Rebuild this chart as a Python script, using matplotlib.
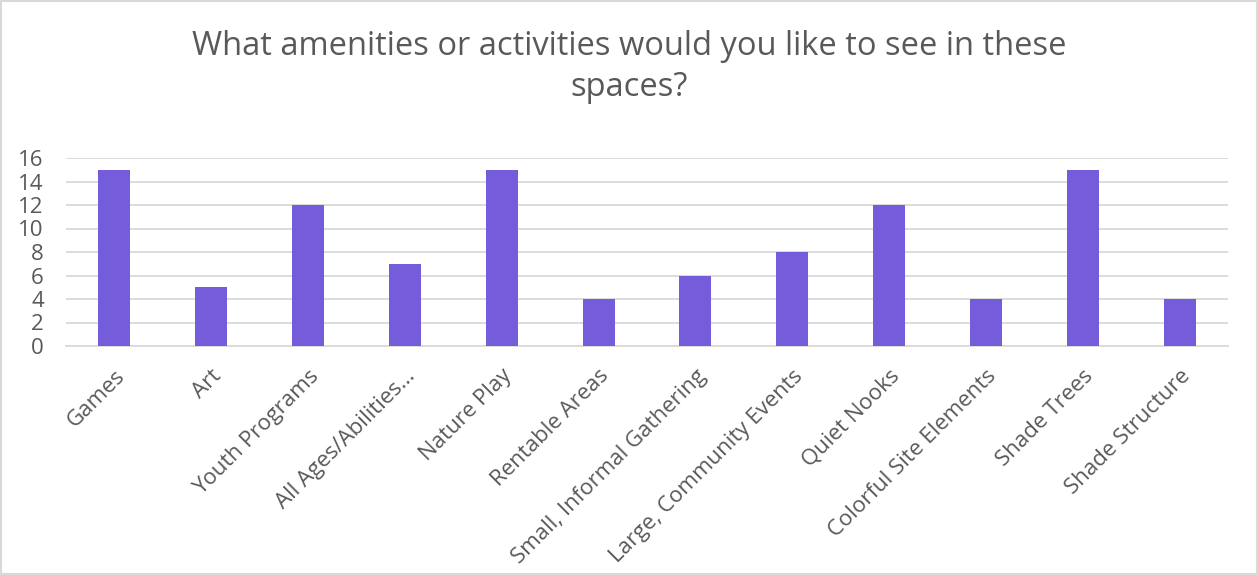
import matplotlib.pyplot as plt
from matplotlib.patches import Rectangle

plt.rcParams['font.family'] = ['Open Sans', 'DejaVu Sans']

categories = ['Games', 'Art', 'Youth Programs', 'All Ages/Abilities…', 'Nature Play',
              'Rentable Areas', 'Small, Informal Gathering', 'Large, Community Events',
              'Quiet Nooks', 'Colorful Site Elements', 'Shade Trees', 'Shade Structure']
counts = [15, 5, 12, 7, 15, 4, 6, 8, 12, 4, 15, 4]
yticks = [0, 2, 4, 6, 8, 10, 12, 14, 16]

fig = plt.figure(figsize=(12.58, 5.75), dpi=100)
ax = fig.add_axes([66 / 1258, 1 - 346 / 575, (1228 - 66) / 1258, (346 - 158) / 575])

ax.bar(range(len(categories)), counts, width=0.33, color='#755cdb', zorder=3)
ax.set_xlim(-0.5, len(categories) - 0.5)
ax.set_ylim(0, 16)
ax.set_yticks(yticks)
ax.grid(axis='y', color='#d9d9d9', linewidth=1.3, zorder=0)
for s in ['top', 'right', 'left']:
    ax.spines[s].set_visible(False)
ax.spines['bottom'].set_color('#d9d9d9')
ax.spines['bottom'].set_linewidth(1.3)
ax.tick_params(axis='both', length=0, colors='#595959', labelsize=16)
ax.tick_params(axis='y', pad=16)
ax.set_xticks(range(len(categories)))
ax.set_xticklabels(categories, rotation=45, ha='right', rotation_mode='anchor')
ax.tick_params(axis='x', pad=14)

fig.text(0.5, 1 - 67 / 575, 'What amenities or activities would you like to see in these\nspaces?',
         ha='center', va='center', fontsize=23.5, color='#595959', linespacing=1.35)

fig.patches.append(Rectangle((0.001, 0.001), 0.998, 0.997, transform=fig.transFigure,
                             fill=False, edgecolor='#d9d9d9', linewidth=1.5))

fig.savefig('out.png', dpi=100)
